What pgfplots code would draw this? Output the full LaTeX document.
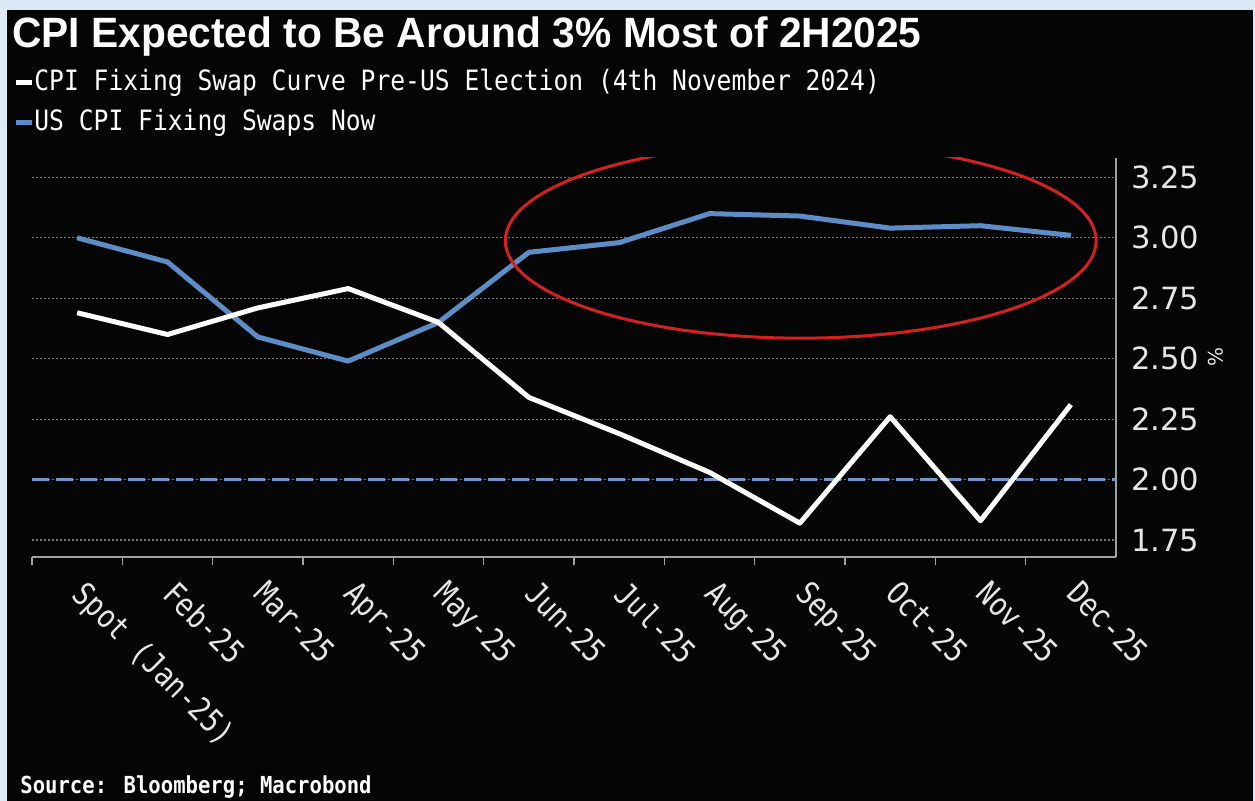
\documentclass[border=0pt]{standalone}
\usepackage{fontspec}
\usepackage{pgfplots}
\usepackage{pgfplotstable}
\pgfplotsset{compat=1.18}
\setmainfont{DejaVu Sans}
\newfontfamily\monof[FakeStretch=0.88]{DejaVu Sans Mono}
\newfontfamily\tickf[FakeStretch=0.85]{DejaVu Sans Mono}
\newfontfamily\titlef[FakeStretch=0.96]{Liberation Sans}
\definecolor{frame}{HTML}{DCE9F5}
\definecolor{bg}{HTML}{050505}
\definecolor{cblue}{HTML}{5C8DC7}
\definecolor{cdash}{HTML}{6F98CC}
\definecolor{cred}{HTML}{D42020}
\definecolor{cgrid}{HTML}{7A7A7A}
\definecolor{caxis}{HTML}{A0A0A0}
\definecolor{clab}{HTML}{E6E6E6}

\pgfplotstableread{
x white blue
0 2.69 3.00
1 2.60 2.90
2 2.71 2.59
3 2.79 2.49
4 2.65 2.65
5 2.34 2.94
6 2.19 2.98
7 2.03 3.10
8 1.82 3.09
9 2.26 3.04
10 1.83 3.05
11 2.31 3.01
}\datatab

\begin{document}
\begin{tikzpicture}
\path[use as bounding box, fill=frame] (0,0) rectangle (627.5pt,-400.5pt);
\fill[bg] (3.5pt,-5pt) rectangle (626.5pt,-400.5pt);
\begin{axis}[
  at={(16pt,-278.5pt)}, anchor=south west,
  scale only axis, width=542pt, height=199.5pt,
  xmin=-0.5, xmax=11.5, ymin=1.68, ymax=3.33,
  axis x line*=bottom, axis y line*=right,
  axis line style={caxis, line width=1pt},
  xtick={-0.5,0.5,...,10.5}, xticklabels={},
  tick align=outside, major tick length=4pt,
  x tick style={caxis, line width=0.8pt},
  extra x ticks={0,1,...,11},
  extra x tick labels={Spot (Jan-25),Feb-25,Mar-25,Apr-25,May-25,Jun-25,Jul-25,Aug-25,Sep-25,Oct-25,Nov-25,Dec-25},
  extra x tick style={major tick length=0pt, tick style={draw=none},
    tick label style={xshift=5.5pt, yshift=-6pt, rotate=-45, anchor=north west, font=\tickf\fontsize{16}{18}\selectfont, text=clab}},
  ytick={1.75,2,2.25,2.5,2.75,3,3.25},
  y tick style={draw=none},
  y tick label style={font=\fontsize{15.3}{18}\selectfont, text=clab},
  yticklabel style={/pgf/number format/.cd, fixed, fixed zerofill, precision=2, assume math mode=true},
  ymajorgrids, grid style={cgrid, line width=0.6pt, dash pattern=on 1pt off 1pt},
  ylabel={\%},
  ylabel style={at={(axis description cs:1.092,0.5)}, anchor=center, rotate=180,
    font=\fontsize{10}{11}\selectfont, text=clab},
]
\addplot[cdash, line width=1.5pt, dash pattern=on 8.5pt off 3.5pt, forget plot] coordinates {(-0.5,2) (11.5,2)};
\addplot[cblue, line width=2.5pt, line join=round] table[x=x,y=blue] {\datatab};
\addplot[white, line width=2.5pt, line join=round] table[x=x,y=white] {\datatab};
\draw[cred, line width=1.5pt] (axis cs:8.01,2.988) ellipse [x radius=3.27, y radius=0.403];
\end{axis}
\node[anchor=base west, inner sep=0pt, text=white, font=\titlef\bfseries\fontsize{21.2}{24}\selectfont] at (6pt,-23.8pt) {CPI Expected to Be Around 3\% Most of 2H2025};
\draw[white, line width=2.5pt] (8pt,-41.5pt) -- (16pt,-41.5pt);
\node[anchor=west, inner sep=0pt, text=white, font=\monof\fontsize{14}{16}\selectfont] at (17pt,-41.5pt) {CPI Fixing Swap Curve Pre-US Election (4th November 2024)};
\draw[cblue, line width=2.5pt] (8pt,-61.5pt) -- (16pt,-61.5pt);
\node[anchor=west, inner sep=0pt, text=white, font=\monof\fontsize{14}{16}\selectfont] at (17pt,-61.5pt) {US CPI Fixing Swaps Now};
\node[anchor=west, inner sep=0pt, text=white, font=\monof\bfseries\fontsize{11.7}{14}\selectfont] at (10pt,-393.5pt) {Source: Bloomberg; Macrobond};
\end{tikzpicture}
\end{document}
